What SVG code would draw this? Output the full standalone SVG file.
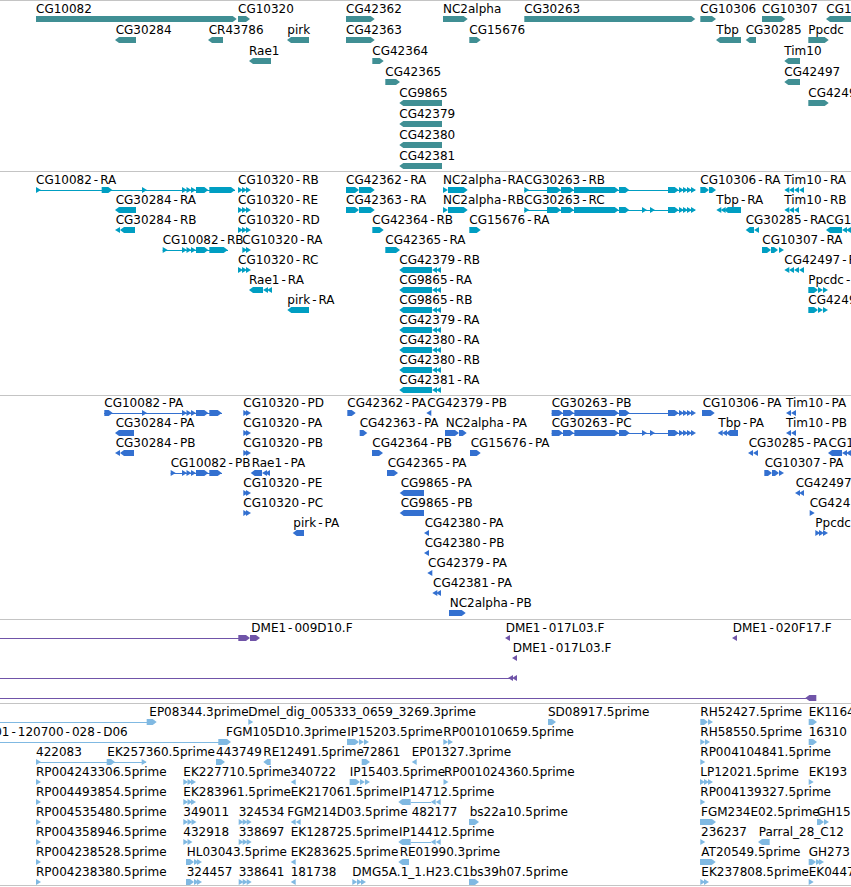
<svg xmlns="http://www.w3.org/2000/svg" width="851" height="887" viewBox="0 0 851 887">
<style>
text{font-family:"DejaVu Sans","Liberation Sans",sans-serif;font-size:12px;fill:#000}
.h{letter-spacing:2px}
.hs{letter-spacing:1px}
.sep{stroke:#c4c4c4;stroke-width:1}
.c1{fill:#408f94}.c2{fill:#009ec2}.c3{fill:#3370d0}.c4{fill:#7054a8}.c5{fill:#80b9e2}
.l2{stroke:#009ec2}.l3{stroke:#3370d0}.l4{stroke:#7054a8}.l5{stroke:#80b9e2}
</style>
<defs>
<path id="r" d="M0 -3L5 0L0 3Z"/>
<path id="l" d="M5 -3L0 0L5 3Z"/>
</defs>
<rect width="851" height="887" fill="#fff"/>
<g id="separators">
<line class="sep" x1="0" y1="0.5" x2="851" y2="0.5"/>
<line class="sep" x1="0" y1="171.5" x2="851" y2="171.5"/>
<line class="sep" x1="0" y1="395.5" x2="851" y2="395.5"/>
<line class="sep" x1="0" y1="619.5" x2="851" y2="619.5"/>
<line class="sep" x1="0" y1="703.5" x2="851" y2="703.5"/>
<line class="sep" x1="0" y1="885.5" x2="851" y2="885.5"/>
</g>
<g id="connectors">
<line class="l2" x1="36" y1="190.5" x2="235" y2="190.5"/>
<line class="l2" x1="524" y1="190.5" x2="695" y2="190.5"/>
<line class="l2" x1="524" y1="210.5" x2="695" y2="210.5"/>
<line class="l2" x1="162.7" y1="250.5" x2="228" y2="250.5"/>
<line class="l3" x1="104" y1="413.5" x2="222" y2="413.5"/>
<line class="l3" x1="551.7" y1="413.5" x2="694" y2="413.5"/>
<line class="l3" x1="551.7" y1="433.5" x2="694" y2="433.5"/>
<line class="l3" x1="170.7" y1="473.5" x2="222" y2="473.5"/>
<line class="l4" x1="0" y1="638.5" x2="240" y2="638.5"/>
<line class="l4" x1="0" y1="678.5" x2="512" y2="678.5"/>
<line class="l4" x1="0" y1="698.5" x2="807" y2="698.5"/>
<line class="l5" x1="0" y1="722.5" x2="147" y2="722.5"/>
<line class="l5" x1="0" y1="742.5" x2="220" y2="742.5"/>
<line class="l5" x1="36" y1="762.5" x2="146" y2="762.5"/>
<line class="l5" x1="410.7" y1="802.5" x2="431" y2="802.5"/>
<line class="l5" x1="410.7" y1="842.5" x2="431" y2="842.5"/>
</g>
<g id="genes" class="c1">
<g id="g-CG10082"><text x="36" y="13">CG10082</text><path d="M36 16H232.7L236.7 19L232.7 22H36Z"/></g>
<g id="g-CG10320"><text x="238" y="13">CG10320</text><path d="M238 16H246L250 19L246 22H238Z"/></g>
<g id="g-CG42362"><text x="346" y="13">CG42362</text><path d="M346 16H370.7L374.7 19L370.7 22H346Z"/></g>
<g id="g-NC2alpha"><text x="443" y="13">NC2alpha</text><path d="M443 16H463.7L467.7 19L463.7 22H443Z"/></g>
<g id="g-CG30263"><text x="524.3" y="13">CG30263</text><path d="M524.3 16H691.3L695.3 19L691.3 22H524.3Z"/></g>
<g id="g-CG10306"><text x="700.3" y="13">CG10306</text><path d="M700.3 16H712L716 19L712 22H700.3Z"/></g>
<g id="g-CG10307"><text x="762" y="13">CG10307</text><path d="M762 16H781.3L785.3 19L781.3 22H762Z"/></g>
<g id="g-CG1"><text x="826.3" y="13">CG1</text><path d="M826 19L830 16H856V22H830Z"/></g>
<g id="g-CG30284"><text x="115.7" y="34">CG30284</text><path d="M115 40L119 37H136V43H119Z"/></g>
<g id="g-CR43786"><text x="208.7" y="34">CR43786</text><path d="M208 40L212 37H223V43H212Z"/></g>
<g id="g-pirk"><text x="287.3" y="34">pirk</text><path d="M287 40L291 37H309V43H291Z"/></g>
<g id="g-CG42363"><text x="346" y="34">CG42363</text><path d="M346 37H370.7L374.7 40L370.7 43H346Z"/></g>
<g id="g-CG15676"><text x="469.3" y="34">CG15676</text><path d="M469.3 37H476.7L480.7 40L476.7 43H469.3Z"/></g>
<g id="g-Tbp"><text x="716.3" y="34">Tbp</text><path d="M716 40L720 37H741V43H720Z"/></g>
<g id="g-CG30285"><text x="745.7" y="34">CG30285</text><path d="M745.7 40L749.7 37H756V43H749.7Z"/></g>
<g id="g-Ppcdc"><text x="808.3" y="34">Ppcdc</text><path d="M808.3 37H824.7L828.7 40L824.7 43H808.3Z"/></g>
<g id="g-Rae1"><text x="249" y="55">Rae1</text><path d="M249 61L253 58H271V64H253Z"/></g>
<g id="g-CG42364"><text x="372.3" y="55">CG42364</text><path d="M372.3 58H379.7L383.7 61L379.7 64H372.3Z"/></g>
<g id="g-Tim10"><text x="784.3" y="55">Tim10</text><path d="M784.3 61L788.3 58H800V64H788.3Z"/></g>
<g id="g-CG42365"><text x="385.3" y="76">CG42365</text><path d="M385.3 79H396L400 82L396 85H385.3Z"/></g>
<g id="g-CG42497"><text x="784.3" y="76">CG42497</text><path d="M784.3 82L788.3 79H800V85H788.3Z"/></g>
<g id="g-CG9865"><text x="399.3" y="97">CG9865</text><path d="M399.3 103L403.3 100H442V106H403.3Z"/></g>
<g id="g-CG4249"><text x="808.3" y="97">CG4249</text><path d="M808.3 100H824.7L828.7 103L824.7 106H808.3Z"/></g>
<g id="g-CG42379"><text x="399.3" y="118">CG42379</text><path d="M399.3 124L403.3 121H442V127H403.3Z"/></g>
<g id="g-CG42380"><text x="399.3" y="139">CG42380</text><path d="M399.3 145L403.3 142H442V148H403.3Z"/></g>
<g id="g-CG42381"><text x="399.3" y="160">CG42381</text><path d="M399.3 166L403.3 163H442V169H403.3Z"/></g>
</g>
<g id="transcripts" class="c2">
<g id="t-CG10082-RA"><text x="36" y="184">CG10082<tspan class="h" dx="2">-</tspan>RA</text><use href="#r" x="36" y="190"/><path d="M101.7 187H108.3L112.3 190L108.3 193H101.7Z"/><use href="#r" x="142" y="190"/><use href="#r" x="182" y="190"/><use href="#r" x="186.5" y="190"/><use href="#r" x="191" y="190"/><path d="M196 187H204.3L208.3 190L204.3 193H196Z"/><path d="M209.3 187H231L235 190L231 193H209.3Z"/></g>
<g id="t-CG10320-RB"><text x="238" y="184">CG10320<tspan class="h" dx="2">-</tspan>RB</text><use href="#r" x="238" y="190"/><use href="#r" x="242" y="190"/><use href="#r" x="246" y="190"/></g>
<g id="t-CG42362-RA"><text x="346" y="184">CG42362<tspan class="h" dx="2">-</tspan>RA</text><path d="M346 187H355L359 190L355 193H346Z"/><path d="M359 187H370.7L374.7 190L370.7 193H359Z"/></g>
<g id="t-NC2alpha-RA"><text x="443" y="184">NC2alpha<tspan class="hs" dx="1">-</tspan>RA</text><use href="#r" x="443" y="190"/><path d="M448 187H463.7L467.7 190L463.7 193H448Z"/></g>
<g id="t-CG30263-RB"><text x="524.3" y="184">CG30263<tspan class="h" dx="2">-</tspan>RB</text><use href="#r" x="524.3" y="190"/><path d="M547 187H557L561 190L557 193H547Z"/><path d="M561 187H570L574 190L570 193H561Z"/><path d="M574 187H614.7L618.7 190L614.7 193H574Z"/><path d="M619 187H625.3L629.3 190L625.3 193H619Z"/><path d="M668 187H674.7L678.7 190L674.7 193H668Z"/><use href="#r" x="679" y="190"/><use href="#r" x="683" y="190"/><use href="#r" x="687" y="190"/><use href="#r" x="691" y="190"/></g>
<g id="t-CG10306-RA"><text x="700.3" y="184">CG10306<tspan class="h" dx="2">-</tspan>RA</text><path d="M700.3 187H705L709 190L705 193H700.3Z"/><path d="M709 187H712L716 190L712 193H709Z"/></g>
<g id="t-Tim10-RA"><text x="784.3" y="184">Tim10<tspan class="h" dx="2">-</tspan>RA</text><use href="#l" x="784.3" y="190"/><use href="#l" x="789" y="190"/><use href="#l" x="794" y="190"/><use href="#l" x="799" y="190"/></g>
<g id="t-CG30284-RA"><text x="115.7" y="204">CG30284<tspan class="h" dx="2">-</tspan>RA</text><path d="M115 210L119 207H136V213H119Z"/></g>
<g id="t-CG10320-RE"><text x="238" y="204">CG10320<tspan class="h" dx="2">-</tspan>RE</text><use href="#r" x="238" y="210"/><use href="#r" x="242" y="210"/><use href="#r" x="246" y="210"/></g>
<g id="t-CG42363-RA"><text x="346" y="204">CG42363<tspan class="h" dx="2">-</tspan>RA</text><path d="M346 207H355L359 210L355 213H346Z"/><path d="M359 207H370.7L374.7 210L370.7 213H359Z"/></g>
<g id="t-NC2alpha-RB"><text x="443" y="204">NC2alpha<tspan class="hs" dx="1">-</tspan>RB</text><use href="#r" x="443" y="210"/><path d="M448 207H463.7L467.7 210L463.7 213H448Z"/></g>
<g id="t-CG30263-RC"><text x="524.3" y="204">CG30263<tspan class="h" dx="2">-</tspan>RC</text><use href="#r" x="524.3" y="210"/><path d="M547 207H557L561 210L557 213H547Z"/><path d="M561 207H570L574 210L570 213H561Z"/><path d="M574 207H614.7L618.7 210L614.7 213H574Z"/><path d="M619 207H625.3L629.3 210L625.3 213H619Z"/><use href="#r" x="642" y="210"/><use href="#r" x="650" y="210"/><path d="M668 207H674.7L678.7 210L674.7 213H668Z"/><use href="#r" x="679" y="210"/><use href="#r" x="683" y="210"/><use href="#r" x="687" y="210"/><use href="#r" x="691" y="210"/></g>
<g id="t-Tbp-RA"><text x="716.3" y="204">Tbp<tspan class="h" dx="2">-</tspan>RA</text><use href="#l" x="716.3" y="210"/><use href="#l" x="720.6" y="210"/><path d="M724 210L728 207H741V213H728Z"/></g>
<g id="t-Tim10-RB"><text x="784.3" y="204">Tim10<tspan class="h" dx="2">-</tspan>RB</text><use href="#l" x="784.3" y="210"/><use href="#l" x="789" y="210"/><use href="#l" x="794" y="210"/></g>
<g id="t-CG30284-RB"><text x="115.7" y="224">CG30284<tspan class="h" dx="2">-</tspan>RB</text><use href="#l" x="115" y="230"/><path d="M120 230L124 227H135V233H124Z"/></g>
<g id="t-CG10320-RD"><text x="238" y="224">CG10320<tspan class="h" dx="2">-</tspan>RD</text><use href="#r" x="238" y="230"/><use href="#r" x="242" y="230"/><use href="#r" x="246" y="230"/></g>
<g id="t-CG42364-RB"><text x="372.3" y="224">CG42364<tspan class="h" dx="2">-</tspan>RB</text><path d="M372.3 227H379.7L383.7 230L379.7 233H372.3Z"/></g>
<g id="t-CG15676-RA"><text x="469.3" y="224">CG15676<tspan class="h" dx="2">-</tspan>RA</text><path d="M469.3 227H476.7L480.7 230L476.7 233H469.3Z"/></g>
<g id="t-CG30285-RA"><text x="745.7" y="224">CG30285<tspan class="h" dx="2">-</tspan>RA</text><path d="M745.7 230L749.7 227H754V233H749.7Z"/><use href="#l" x="754" y="230"/></g>
<g id="t-CG1"><text x="826" y="224">CG1</text><path d="M826 230L830 227H842V233H830Z"/><use href="#l" x="842" y="230"/><use href="#l" x="846" y="230"/></g>
<g id="t-CG10082-RB"><text x="162.7" y="244">CG10082<tspan class="h" dx="2">-</tspan>RB</text><use href="#r" x="162.7" y="250"/><use href="#r" x="182" y="250"/><use href="#r" x="186.5" y="250"/><use href="#r" x="191" y="250"/><path d="M196 247H204.3L208.3 250L204.3 253H196Z"/><path d="M209.3 247H223.7L227.7 250L223.7 253H209.3Z"/></g>
<g id="t-CG10320-RA"><text x="242.3" y="244">CG10320<tspan class="h" dx="2">-</tspan>RA</text><use href="#r" x="242.3" y="250"/><use href="#r" x="246" y="250"/></g>
<g id="t-CG42365-RA"><text x="385.3" y="244">CG42365<tspan class="h" dx="2">-</tspan>RA</text><path d="M385.3 247H396L400 250L396 253H385.3Z"/></g>
<g id="t-CG10307-RA"><text x="762.3" y="244">CG10307<tspan class="h" dx="2">-</tspan>RA</text><path d="M762 247H767L771 250L767 253H762Z"/><path d="M771 247H774L778 250L774 253H771Z"/><use href="#r" x="779" y="250"/></g>
<g id="t-CG10320-RC"><text x="238" y="264">CG10320<tspan class="h" dx="2">-</tspan>RC</text><use href="#r" x="238" y="270"/><use href="#r" x="242" y="270"/><use href="#r" x="246" y="270"/></g>
<g id="t-CG42379-RB"><text x="399.3" y="264">CG42379<tspan class="h" dx="2">-</tspan>RB</text><path d="M399.3 270L403.3 267H432V273H403.3Z"/><use href="#l" x="432" y="270"/><use href="#l" x="436" y="270"/></g>
<g id="t-CG42497-R"><text x="784.3" y="264">CG42497<tspan class="h" dx="2">-</tspan>R</text><use href="#l" x="784.3" y="270"/><use href="#l" x="789" y="270"/><use href="#l" x="794" y="270"/><use href="#l" x="799" y="270"/></g>
<g id="t-Rae1-RA"><text x="249" y="284">Rae1<tspan class="h" dx="2">-</tspan>RA</text><path d="M249 290L253 287H263V293H253Z"/><use href="#l" x="263" y="290"/><use href="#l" x="267" y="290"/></g>
<g id="t-CG9865-RA"><text x="399.3" y="284">CG9865<tspan class="h" dx="2">-</tspan>RA</text><path d="M399.3 290L403.3 287H432V293H403.3Z"/><use href="#l" x="432" y="290"/><use href="#l" x="436" y="290"/></g>
<g id="t-Ppcdc-R"><text x="808.3" y="284">Ppcdc<tspan class="h" dx="2">-</tspan></text><path d="M808.3 287H814L818 290L814 293H808.3Z"/><use href="#r" x="818" y="290"/><use href="#r" x="823" y="290"/></g>
<g id="t-pirk-RA"><text x="287.3" y="304">pirk<tspan class="h" dx="2">-</tspan>RA</text><path d="M287.3 310L291.3 307H309V313H291.3Z"/></g>
<g id="t-CG9865-RB"><text x="399.3" y="304">CG9865<tspan class="h" dx="2">-</tspan>RB</text><path d="M399.3 310L403.3 307H432V313H403.3Z"/><use href="#l" x="432" y="310"/><use href="#l" x="436" y="310"/></g>
<g id="t-CG4249"><text x="808.3" y="304">CG4249</text><path d="M808.3 307H814L818 310L814 313H808.3Z"/><use href="#r" x="818" y="310"/><use href="#r" x="823" y="310"/></g>
<g id="t-CG42379-RA"><text x="399.3" y="324">CG42379<tspan class="h" dx="2">-</tspan>RA</text><path d="M399.3 330L403.3 327H432V333H403.3Z"/><use href="#l" x="432" y="330"/><use href="#l" x="436" y="330"/></g>
<g id="t-CG42380-RA"><text x="399.3" y="344">CG42380<tspan class="h" dx="2">-</tspan>RA</text><path d="M399.3 350L403.3 347H432V353H403.3Z"/><use href="#l" x="432" y="350"/><use href="#l" x="436" y="350"/></g>
<g id="t-CG42380-RB"><text x="399.3" y="364">CG42380<tspan class="h" dx="2">-</tspan>RB</text><path d="M399.3 370L403.3 367H432V373H403.3Z"/><use href="#l" x="432" y="370"/><use href="#l" x="436" y="370"/></g>
<g id="t-CG42381-RA"><text x="399.3" y="384">CG42381<tspan class="h" dx="2">-</tspan>RA</text><path d="M399.3 390L403.3 387H432V393H403.3Z"/><use href="#l" x="432" y="390"/><use href="#l" x="436" y="390"/></g>
</g>
<g id="proteins" class="c3">
<g id="p-CG10082-PA"><text x="104.3" y="407">CG10082<tspan class="h" dx="2">-</tspan>PA</text><path d="M104.3 410H108.7L112.7 413L108.7 416H104.3Z"/><use href="#r" x="142" y="413"/><use href="#r" x="182" y="413"/><use href="#r" x="186.5" y="413"/><use href="#r" x="191" y="413"/><path d="M196 410H204.3L208.3 413L204.3 416H196Z"/><path d="M209.3 410H217.7L221.7 413L217.7 416H209.3Z"/></g>
<g id="p-CG10320-PD"><text x="243.3" y="407">CG10320<tspan class="h" dx="2">-</tspan>PD</text><use href="#r" x="243.3" y="413"/><use href="#r" x="246" y="413"/></g>
<g id="p-CG42362-PA"><text x="347.3" y="407">CG42362<tspan class="h" dx="2">-</tspan>PA</text><path d="M347.3 410H351.7L355.7 413L351.7 416H347.3Z"/></g>
<g id="p-CG42379-PB"><text x="427.3" y="407">CG42379<tspan class="h" dx="2">-</tspan>PB</text><use href="#l" x="426.3" y="413"/></g>
<g id="p-CG30263-PB"><text x="551.7" y="407">CG30263<tspan class="h" dx="2">-</tspan>PB</text><path d="M551.7 410H559L563 413L559 416H551.7Z"/><path d="M563 410H570L574 413L570 416H563Z"/><path d="M574.3 410H614.7L618.7 413L614.7 416H574.3Z"/><path d="M619 410H625.7L629.7 413L625.7 416H619Z"/><path d="M668 410H674.7L678.7 413L674.7 416H668Z"/><use href="#r" x="679" y="413"/><use href="#r" x="683" y="413"/><use href="#r" x="687" y="413"/><use href="#r" x="691" y="413"/></g>
<g id="p-CG10306-PA"><text x="702.7" y="407">CG10306<tspan class="h" dx="2">-</tspan>PA</text><path d="M702 410H710.7L714.7 413L710.7 416H702Z"/></g>
<g id="p-Tim10-PA"><text x="786" y="407">Tim10<tspan class="h" dx="2">-</tspan>PA</text><use href="#l" x="786" y="413"/><use href="#l" x="791" y="413"/></g>
<g id="p-CG30284-PA"><text x="115.7" y="427">CG30284<tspan class="h" dx="2">-</tspan>PA</text><path d="M115 433L119 430H134V436H119Z"/></g>
<g id="p-CG10320-PA"><text x="243.3" y="427">CG10320<tspan class="h" dx="2">-</tspan>PA</text><use href="#r" x="243.3" y="433"/><use href="#r" x="246" y="433"/></g>
<g id="p-CG42363-PA"><text x="359.7" y="427">CG42363<tspan class="h" dx="2">-</tspan>PA</text><path d="M359.7 430H363.3L367.3 433L363.3 436H359.7Z"/></g>
<g id="p-NC2alpha-PA"><text x="445.7" y="427">NC2alpha<tspan class="h" dx="2">-</tspan>PA</text><path d="M445 430H455L459 433L455 436H445Z"/><path d="M459 430H462.7L466.7 433L462.7 436H459Z"/></g>
<g id="p-CG30263-PC"><text x="551.7" y="427">CG30263<tspan class="h" dx="2">-</tspan>PC</text><path d="M551.7 430H559L563 433L559 436H551.7Z"/><path d="M563 430H570L574 433L570 436H563Z"/><path d="M574.3 430H614.7L618.7 433L614.7 436H574.3Z"/><path d="M619 430H625.7L629.7 433L625.7 436H619Z"/><use href="#r" x="642" y="433"/><use href="#r" x="650" y="433"/><path d="M668 430H674.7L678.7 433L674.7 436H668Z"/><use href="#r" x="679" y="433"/><use href="#r" x="683" y="433"/><use href="#r" x="687" y="433"/><use href="#r" x="691" y="433"/></g>
<g id="p-Tbp-PA"><text x="718.3" y="427">Tbp<tspan class="h" dx="2">-</tspan>PA</text><use href="#l" x="717.7" y="433"/><use href="#l" x="722" y="433"/><path d="M726 433L730 430H738V436H730Z"/></g>
<g id="p-Tim10-PB"><text x="786" y="427">Tim10<tspan class="h" dx="2">-</tspan>PB</text><use href="#l" x="786" y="433"/><use href="#l" x="791" y="433"/></g>
<g id="p-CG30284-PB"><text x="115.7" y="447">CG30284<tspan class="h" dx="2">-</tspan>PB</text><use href="#l" x="115" y="453"/><path d="M120 453L124 450H134V456H124Z"/></g>
<g id="p-CG10320-PB"><text x="243.3" y="447">CG10320<tspan class="h" dx="2">-</tspan>PB</text><use href="#r" x="243.3" y="453"/><use href="#r" x="246" y="453"/></g>
<g id="p-CG42364-PB"><text x="372.3" y="447">CG42364<tspan class="h" dx="2">-</tspan>PB</text><path d="M372 450H379L383 453L379 456H372Z"/></g>
<g id="p-CG15676-PA"><text x="470.7" y="447">CG15676<tspan class="h" dx="2">-</tspan>PA</text><path d="M470 450H476.7L480.7 453L476.7 456H470Z"/></g>
<g id="p-CG30285-PA"><text x="748.7" y="447">CG30285<tspan class="h" dx="2">-</tspan>PA</text><use href="#l" x="748" y="453"/><use href="#l" x="753" y="453"/></g>
<g id="p-CG1"><text x="828.5" y="447">CG1</text><path d="M828 453L832 450H842V456H832Z"/><use href="#l" x="842" y="453"/><use href="#l" x="846" y="453"/></g>
<g id="p-CG10082-PB"><text x="170.7" y="467">CG10082<tspan class="h" dx="2">-</tspan>PB</text><use href="#r" x="170.7" y="473"/><use href="#r" x="182" y="473"/><use href="#r" x="186.5" y="473"/><use href="#r" x="191" y="473"/><path d="M196 470H204.3L208.3 473L204.3 476H196Z"/><path d="M209.3 470H217.7L221.7 473L217.7 476H209.3Z"/></g>
<g id="p-Rae1-PA"><text x="251.7" y="467">Rae1<tspan class="h" dx="2">-</tspan>PA</text><path d="M250.7 473L254.7 470H262V476H254.7Z"/><use href="#l" x="262" y="473"/><use href="#l" x="265" y="473"/></g>
<g id="p-CG42365-PA"><text x="387.7" y="467">CG42365<tspan class="h" dx="2">-</tspan>PA</text><path d="M387 470H394L398 473L394 476H387Z"/></g>
<g id="p-CG10307-PA"><text x="764.7" y="467">CG10307<tspan class="h" dx="2">-</tspan>PA</text><path d="M764.3 470H768L772 473L768 476H764.3Z"/><path d="M772 470H775L779 473L775 476H772Z"/><use href="#r" x="779" y="473"/></g>
<g id="p-CG10320-PE"><text x="243.3" y="487">CG10320<tspan class="h" dx="2">-</tspan>PE</text><use href="#r" x="243.3" y="493"/><use href="#r" x="246" y="493"/></g>
<g id="p-CG9865-PA"><text x="400.7" y="487">CG9865<tspan class="h" dx="2">-</tspan>PA</text><path d="M399.7 493L403.7 490H424V496H403.7Z"/></g>
<g id="p-CG42497"><text x="795.7" y="487">CG42497</text><use href="#l" x="795" y="493"/><use href="#l" x="799" y="493"/></g>
<g id="p-CG10320-PC"><text x="243.3" y="507">CG10320<tspan class="h" dx="2">-</tspan>PC</text><use href="#r" x="243.3" y="513"/><use href="#r" x="246" y="513"/></g>
<g id="p-CG9865-PB"><text x="400.7" y="507">CG9865<tspan class="h" dx="2">-</tspan>PB</text><path d="M399.7 513L403.7 510H424V516H403.7Z"/></g>
<g id="p-CG424"><text x="809.7" y="507">CG424</text><use href="#r" x="809.7" y="513"/></g>
<g id="p-pirk-PA"><text x="293.3" y="527">pirk<tspan class="h" dx="2">-</tspan>PA</text><path d="M292.7 533L296.7 530H304V536H296.7Z"/></g>
<g id="p-CG42380-PA"><text x="424.7" y="527">CG42380<tspan class="h" dx="2">-</tspan>PA</text><use href="#l" x="424" y="533"/></g>
<g id="p-Ppcdc"><text x="815.3" y="527">Ppcdc</text><use href="#r" x="815.3" y="533"/><use href="#r" x="819" y="533"/><use href="#r" x="823" y="533"/></g>
<g id="p-CG42380-PB"><text x="424.7" y="547">CG42380<tspan class="h" dx="2">-</tspan>PB</text><use href="#l" x="424" y="553"/></g>
<g id="p-CG42379-PA"><text x="428" y="567">CG42379<tspan class="h" dx="2">-</tspan>PA</text><use href="#l" x="427.3" y="573"/></g>
<g id="p-CG42381-PA"><text x="433" y="587">CG42381<tspan class="h" dx="2">-</tspan>PA</text><use href="#l" x="432.3" y="593"/><use href="#l" x="436" y="593"/></g>
<g id="p-NC2alpha-PB"><text x="449.7" y="607">NC2alpha<tspan class="h" dx="2">-</tspan>PB</text><path d="M449 610H461.7L465.7 613L461.7 616H449Z"/></g>
</g>
<g id="clones" class="c4">
<g id="d-DME1-009D10_F"><text x="251.3" y="632">DME1<tspan class="h" dx="2">-</tspan>009D10.F</text><path d="M238.3 635H246L250 638L246 641H238.3Z"/><path d="M250 635H256L260 638L256 641H250Z"/></g>
<g id="d-DME1-017L03_F-1"><text x="505.7" y="632">DME1<tspan class="h" dx="2">-</tspan>017L03.F</text><use href="#l" x="505" y="638"/></g>
<g id="d-DME1-020F17_F"><text x="732.7" y="632">DME1<tspan class="h" dx="2">-</tspan>020F17.F</text><use href="#l" x="732" y="638"/></g>
<g id="d-DME1-017L03_F-2"><text x="512.7" y="652">DME1<tspan class="h" dx="2">-</tspan>017L03.F</text><use href="#l" x="512" y="658"/></g>
<g id="d-clone-row3"><use href="#l" x="508" y="678"/><use href="#l" x="512" y="678"/></g>
<g id="d-clone-row4"><path d="M805.3 698L809.3 695H816.3V701H809.3Z"/></g>
</g>
<g id="ests" class="c5">
<g id="e-EP08344_3prime"><text x="149.3" y="716">EP08344.3prime</text><path d="M146.7 719H152.7L156.7 722L152.7 725H146.7Z"/></g>
<g id="e-Dmel_dig"><text x="248.3" y="716">Dmel_dig_005333_0659_3269.3prime</text><use href="#r" x="248.3" y="722"/></g>
<g id="e-SD08917"><text x="548" y="716">SD08917.5prime</text><path d="M548 719H552L556 722L552 725H548Z"/></g>
<g id="e-RH52427"><text x="700.3" y="716">RH52427.5prime</text><path d="M700.3 719H704L708 722L704 725H700.3Z"/><use href="#r" x="708" y="722"/></g>
<g id="e-EK1164"><text x="808.7" y="716">EK1164</text><path d="M808.7 719H813L817 722L813 725H808.7Z"/></g>
<g id="e-D06"><text x="127.7" y="736" text-anchor="end">01<tspan class="h" dx="2">-</tspan>120700<tspan class="h" dx="2">-</tspan>028<tspan class="h" dx="2">-</tspan>D06</text><path d="M218.3 739H227L231 742L227 745H218.3Z"/></g>
<g id="e-FGM105D10"><text x="226" y="736">FGM105D10.3prime</text></g>
<g id="e-IP15203"><text x="347.3" y="736">IP15203.5prime</text><path d="M347 739H355L359 742L355 745H347Z"/><use href="#r" x="359" y="742"/><use href="#r" x="364" y="742"/></g>
<g id="e-RP001010659"><text x="443.3" y="736">RP001010659.5prime</text><use href="#r" x="443.3" y="742"/><use href="#r" x="448" y="742"/></g>
<g id="e-RH58550"><text x="700.3" y="736">RH58550.5prime</text><use href="#r" x="700.3" y="742"/><use href="#r" x="705" y="742"/></g>
<g id="e-16310"><text x="808.7" y="736">16310</text><path d="M808.7 739H813L817 742L813 745H808.7Z"/></g>
<g id="e-422083"><text x="36" y="756">422083</text><use href="#r" x="36" y="762"/><path d="M106.7 759H111L115 762L111 765H106.7Z"/><use href="#r" x="141.7" y="762"/></g>
<g id="e-EK257360"><text x="107.3" y="756">EK257360.5prime</text></g>
<g id="e-443749"><text x="216" y="756">443749</text><path d="M216 759H221L225 762L221 765H216Z"/></g>
<g id="e-RE12491"><text x="263.3" y="756">RE12491.5prime</text><path d="M263.3 762L267.3 759H270.7V765H267.3Z"/></g>
<g id="e-72861"><text x="362.3" y="756">72861</text><path d="M361.7 759H366L370 762L366 765H361.7Z"/></g>
<g id="e-EP01327"><text x="411.7" y="756">EP01327.3prime</text><use href="#l" x="411.7" y="762"/></g>
<g id="e-RP004104841"><text x="700.3" y="756">RP004104841.5prime</text><use href="#r" x="700.3" y="762"/></g>
<g id="e-RP004243306"><text x="36" y="776">RP004243306.5prime</text><use href="#r" x="36" y="782"/></g>
<g id="e-EK227710"><text x="183.3" y="776">EK227710.5prime</text><use href="#r" x="183.3" y="782"/><use href="#r" x="187.5" y="782"/><use href="#r" x="191" y="782"/></g>
<g id="e-340722"><text x="290.3" y="776">340722</text><use href="#l" x="290.7" y="782"/></g>
<g id="e-IP15403"><text x="349.7" y="776">IP15403.5prime</text><path d="M349.7 779H356L360 782L356 785H349.7Z"/><use href="#r" x="360" y="782"/><use href="#r" x="365" y="782"/></g>
<g id="e-RP001024360"><text x="444" y="776">RP001024360.5prime</text><use href="#r" x="443.5" y="782"/></g>
<g id="e-LP12021"><text x="700.3" y="776">LP12021.5prime</text><use href="#r" x="700" y="782"/><use href="#r" x="704" y="782"/><use href="#r" x="708" y="782"/></g>
<g id="e-EK193"><text x="808.7" y="776">EK193</text><use href="#r" x="808.7" y="782"/></g>
<g id="e-RP004493854"><text x="36" y="796">RP004493854.5prime</text><use href="#r" x="36" y="802"/></g>
<g id="e-EK283961"><text x="183.3" y="796">EK283961.5prime</text><use href="#r" x="183.3" y="802"/><use href="#r" x="187.5" y="802"/><use href="#r" x="191" y="802"/></g>
<g id="e-EK217061"><text x="290.7" y="796">EK217061.5prime</text></g>
<g id="e-IP14712"><text x="399" y="796">IP14712.5prime</text><path d="M398.3 802L402.3 799H410.7V805H402.3Z"/><use href="#l" x="430.7" y="802"/><use href="#l" x="435.7" y="802"/></g>
<g id="e-RP004139327"><text x="700.3" y="796">RP004139327.5prime</text><use href="#r" x="700.3" y="802"/></g>
<g id="e-RP004535480"><text x="36" y="816">RP004535480.5prime</text><use href="#r" x="36" y="822"/></g>
<g id="e-349011"><text x="183.3" y="816">349011</text><use href="#r" x="183.3" y="822"/><use href="#r" x="187.5" y="822"/><use href="#r" x="191.5" y="822"/></g>
<g id="e-324534"><text x="238.7" y="816">324534</text><use href="#r" x="238.7" y="822"/><use href="#r" x="242.7" y="822"/><use href="#r" x="246.7" y="822"/></g>
<g id="e-FGM214D03"><text x="287.3" y="816">FGM214D03.5prime</text><use href="#l" x="290.7" y="822"/><use href="#l" x="295.7" y="822"/></g>
<g id="e-482177"><text x="411.7" y="816">482177</text></g>
<g id="e-bs22a10"><text x="469.7" y="816">bs22a10.5prime</text><path d="M469 819H475L479 822L475 825H469Z"/></g>
<g id="e-FGM234E02"><text x="701" y="816">FGM234E02.5prime</text><path d="M700 819H712L716 822L712 825H700Z"/></g>
<g id="e-GH15"><text x="817" y="816">GH15</text><path d="M817 819H820L824 822L820 825H817Z"/><use href="#r" x="824" y="822"/></g>
<g id="e-RP004358946"><text x="36" y="836">RP004358946.5prime</text><use href="#r" x="36" y="842"/></g>
<g id="e-432918"><text x="183.3" y="836">432918</text><use href="#r" x="183.3" y="842"/><use href="#r" x="187.5" y="842"/></g>
<g id="e-338697"><text x="238.7" y="836">338697</text><use href="#r" x="238.7" y="842"/><use href="#r" x="242.7" y="842"/><use href="#r" x="246.7" y="842"/></g>
<g id="e-EK128725"><text x="290.7" y="836">EK128725.5prime</text></g>
<g id="e-IP14412"><text x="399" y="836">IP14412.5prime</text><path d="M398.3 842L402.3 839H410.7V845H402.3Z"/><use href="#l" x="430.7" y="842"/><use href="#l" x="435.7" y="842"/></g>
<g id="e-236237"><text x="701" y="836">236237</text><use href="#r" x="700.3" y="842"/></g>
<g id="e-Parral_28_C12"><text x="758.7" y="836">Parral_28_C12</text><path d="M758 842L762 839H769.7V845H762Z"/></g>
<g id="e-RP004238528"><text x="36" y="856">RP004238528.5prime</text><use href="#r" x="36" y="862"/></g>
<g id="e-HL03043"><text x="186.7" y="856">HL03043.5prime</text><path d="M186 859H190L194 862L190 865H186Z"/><use href="#r" x="194" y="862"/><use href="#r" x="197" y="862"/></g>
<g id="e-EK283625"><text x="290.7" y="856">EK283625.5prime</text><use href="#l" x="290.7" y="862"/></g>
<g id="e-RE01990"><text x="399.7" y="856">RE01990.3prime</text><path d="M398.3 862L402.3 859H409V865H402.3Z"/></g>
<g id="e-AT20549"><text x="701.3" y="856">AT20549.5prime</text><path d="M700 859H711.7L715.7 862L711.7 865H700Z"/></g>
<g id="e-GH273"><text x="808.7" y="856">GH273</text><path d="M808.7 859H812L816 862L812 865H808.7Z"/><use href="#r" x="816" y="862"/><use href="#r" x="819" y="862"/></g>
<g id="e-RP004238380"><text x="36" y="876">RP004238380.5prime</text><use href="#r" x="36" y="882"/></g>
<g id="e-324457"><text x="186.7" y="876">324457</text><path d="M186 879H190L194 882L190 885H186Z"/><use href="#r" x="194" y="882"/><use href="#r" x="197" y="882"/></g>
<g id="e-338641"><text x="238.7" y="876">338641</text><use href="#r" x="238.7" y="882"/><use href="#r" x="242.7" y="882"/><use href="#r" x="246.7" y="882"/></g>
<g id="e-181738"><text x="290.7" y="876">181738</text><use href="#l" x="290.7" y="882"/></g>
<g id="e-DMG5A"><text x="352.3" y="876">DMG5A.1_1.H23.C1</text><use href="#r" x="352.3" y="882"/><use href="#r" x="357" y="882"/><use href="#r" x="361" y="882"/></g>
<g id="e-bs39h07"><text x="469.7" y="876">bs39h07.5prime</text><path d="M469 879H475L479 882L475 885H469Z"/></g>
<g id="e-EK237808"><text x="701.3" y="876">EK237808.5prime</text><use href="#r" x="700.3" y="882"/><use href="#r" x="704" y="882"/></g>
<g id="e-EK0447"><text x="808.7" y="876">EK0447</text><use href="#r" x="808.7" y="882"/></g>
</g>
</svg>
